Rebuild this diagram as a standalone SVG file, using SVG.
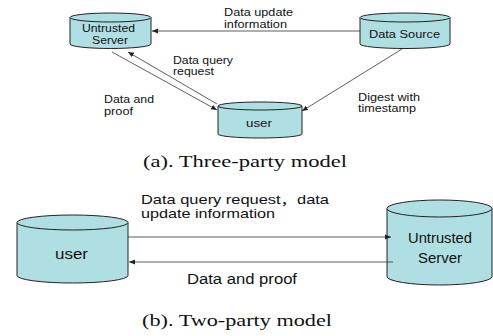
<svg xmlns="http://www.w3.org/2000/svg" width="493" height="336" viewBox="0 0 493 336">
  <style>
    .cyl { fill: #B0DFE3; stroke: #222; stroke-width: 1; }
    .lbl { font-family: "Liberation Sans", "Noto Sans CJK SC", sans-serif; fill: #111; }
    .cap { font-family: "Liberation Serif", serif; fill: #111; font-size: 17px; }
    .edge { stroke: #333; stroke-width: 0.8; fill: none; marker-end: url(#arrow); }
  </style>
  <defs>
    <marker id="arrow" markerUnits="userSpaceOnUse" markerWidth="7" markerHeight="6" refX="6" refY="3" orient="auto">
      <path d="M0,0.5 L6,3 L0,5.5 z" fill="#222"/>
    </marker>
  </defs>
  <rect width="493" height="336" fill="#fff"/>

  <!-- three-party model -->
  <g id="server-a">
    <path class="cyl" d="M70,17.5 A40.5,4.5 0 0 1 151,17.5 V44 A40.5,4.5 0 0 1 70,44 Z"/>
    <path class="cyl" d="M70,17.5 A40.5,4.5 0 0 0 151,17.5" fill="none"/>
    <text class="lbl" font-size="10.5" x="82" y="32" textLength="53" lengthAdjust="spacingAndGlyphs">Untrusted</text>
    <text class="lbl" font-size="10.5" x="92" y="44" textLength="36" lengthAdjust="spacingAndGlyphs">Server</text>
  </g>
  <g id="source-a">
    <path class="cyl" d="M360,17.5 A45,4.5 0 0 1 450,17.5 V44 A45,4.5 0 0 1 360,44 Z"/>
    <path class="cyl" d="M360,17.5 A45,4.5 0 0 0 450,17.5" fill="none"/>
    <text class="lbl" font-size="10.5" x="369" y="38" textLength="71" lengthAdjust="spacingAndGlyphs">Data Source</text>
  </g>
  <g id="user-a">
    <path class="cyl" d="M218,106 A42,4 0 0 1 302,106 V134 A42,4 0 0 1 218,134 Z"/>
    <path class="cyl" d="M218,106 A42,4 0 0 0 302,106" fill="none"/>
    <text class="lbl" font-size="10.5" x="246" y="127" textLength="26" lengthAdjust="spacingAndGlyphs">user</text>
  </g>

  <g id="edges-a">
    <line class="edge" x1="360" y1="31" x2="152" y2="31"/>
    <line class="edge" x1="217" y1="104" x2="128" y2="52"/>
    <line class="edge" x1="112" y1="52" x2="217" y2="110"/>
    <line class="edge" x1="402" y1="49" x2="302" y2="111"/>
    <text class="lbl" font-size="10.5" x="224" y="16" textLength="69" lengthAdjust="spacingAndGlyphs">Data update</text>
    <text class="lbl" font-size="10.5" x="224" y="28" textLength="63" lengthAdjust="spacingAndGlyphs">information</text>
    <text class="lbl" font-size="10.5" x="173" y="64" textLength="60" lengthAdjust="spacingAndGlyphs">Data query</text>
    <text class="lbl" font-size="10.5" x="173" y="75" textLength="41" lengthAdjust="spacingAndGlyphs">request</text>
    <text class="lbl" font-size="10.5" x="104" y="103" textLength="50" lengthAdjust="spacingAndGlyphs">Data and</text>
    <text class="lbl" font-size="10.5" x="104" y="115" textLength="29" lengthAdjust="spacingAndGlyphs">proof</text>
    <text class="lbl" font-size="10.5" x="358" y="101" textLength="62" lengthAdjust="spacingAndGlyphs">Digest with</text>
    <text class="lbl" font-size="10.5" x="358" y="112" textLength="58" lengthAdjust="spacingAndGlyphs">timestamp</text>
  </g>

  <text class="cap" x="143" y="167" textLength="204" lengthAdjust="spacingAndGlyphs">(a). Three-party model</text>

  <!-- two-party model -->
  <g id="user-b">
    <path class="cyl" d="M17,222.5 A55.5,7.5 0 0 1 128,222.5 V275.5 A55.5,7.5 0 0 1 17,275.5 Z"/>
    <path class="cyl" d="M17,222.5 A55.5,7.5 0 0 0 128,222.5" fill="none"/>
    <text class="lbl" font-size="14" x="55" y="259" textLength="33" lengthAdjust="spacingAndGlyphs">user</text>
  </g>
  <g id="server-b">
    <path class="cyl" d="M387,208.5 A52.5,8.5 0 0 1 492,208.5 V276.5 A52.5,8.5 0 0 1 387,276.5 Z"/>
    <path class="cyl" d="M387,208.5 A52.5,8.5 0 0 0 492,208.5" fill="none"/>
    <text class="lbl" font-size="15.5" x="408" y="243" textLength="64" lengthAdjust="spacingAndGlyphs">Untrusted</text>
    <text class="lbl" font-size="15.5" x="418" y="263" textLength="44" lengthAdjust="spacingAndGlyphs">Server</text>
  </g>

  <g id="edges-b">
    <line class="edge" x1="128" y1="237" x2="391" y2="237"/>
    <line class="edge" x1="393" y1="262" x2="129" y2="262"/>
    <text class="lbl" font-size="13" x="141" y="204" textLength="188" lengthAdjust="spacingAndGlyphs">Data query request，data</text>
    <text class="lbl" font-size="13" x="141" y="218" textLength="134" lengthAdjust="spacingAndGlyphs">update information</text>
    <text class="lbl" font-size="14" x="187" y="284" textLength="110" lengthAdjust="spacingAndGlyphs">Data and proof</text>
  </g>

  <text class="cap" x="142" y="326" textLength="190" lengthAdjust="spacingAndGlyphs">(b). Two-party model</text>
</svg>
